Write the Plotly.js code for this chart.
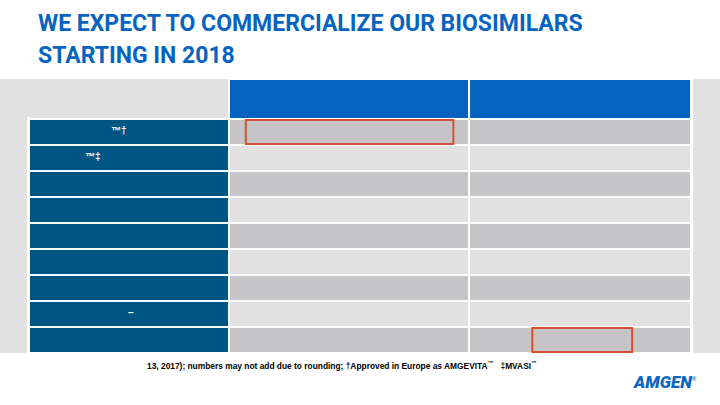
<!DOCTYPE html>
<html><head><meta charset="utf-8">
<script src="https://cdn.plot.ly/plotly-3.0.1.min.js"></script>
<style>html,body{margin:0;padding:0;background:#fff}#c{width:720px;height:405px}</style>
</head><body><div id="c"></div>
<script>
// ---- data ----
const titleLines = ["WE EXPECT TO COMMERCIALIZE OUR BIOSIMILARS", "STARTING IN 2018"];
const headerLabels = ["", "", ""];
const rowLabels = ["™†", "™‡", "", "", "", "", "", "–", ""];
const col2Values = ["", "", "", "", "", "", "", "", ""];
const col3Values = ["", "", "", "", "", "", "", "", ""];
const highlighted = [[0, 1], [8, 2]];            // [row, column] cells with a red outline
const footnote = "13, 2017); numbers may not add due to rounding; †Approved in Europe as AMGEVITA<sup>™</sup>   ‡MVASI<sup>™</sup>";
const logoText = "AMGEN";

// ---- layout geometry / styles ----
const W = 720, H = 405;
const bandTop = 79, bandBottom = 353;
const headerH = 40, rowH = 26;
const colEdges = [29, 229, 469, 691];
const highlightSpan = [[0.07, 0.935], [0.285, 0.735]];
const labelShift = [-10, -36, 0, 0, 0, 0, 0, 2, 0];
const C = {hdrGray: "#e1e1e1", hdrBlue: "#0563c1", label: "#005682", dark: "#c5c5c7", light: "#e1e1e1", red: "#d6502f", title: "#0563c1"};

const nRows = rowLabels.length;
const yEdges = [bandTop, bandTop + headerH];
for (let i = 0; i < nRows; i++) yEdges.push(bandTop + headerH + rowH * (i + 1));

const z = [[0, 1, 1]];
const txt = [headerLabels];
for (let i = 0; i < nRows; i++) {
  const g = i % 2 === 0 ? 3 : 4;
  z.push([2, g, g]);
  txt.push([rowLabels[i], col2Values[i], col3Values[i]]);
}
const colorscale = [[0, C.hdrGray], [0.125, C.hdrGray], [0.125, C.hdrBlue], [0.375, C.hdrBlue],
  [0.375, C.label], [0.625, C.label], [0.625, C.dark], [0.875, C.dark], [0.875, C.light], [1, C.light]];

const trace = {
  type: "heatmap", x: colEdges, y: yEdges, z: z, zmin: 0, zmax: 4,
  colorscale: colorscale, showscale: false, xgap: 2, ygap: 2, hoverinfo: "skip"
};

const shapes = [
  {type: "rect", layer: "below", xref: "x", yref: "y", x0: 27, x1: 693, y0: bandTop + headerH - 2, y1: bandBottom, fillcolor: "#ffffff", line: {width: 0}},
  {type: "rect", layer: "below", xref: "x", yref: "y", x0: colEdges[1] - 1, x1: 693, y0: bandTop, y1: bandTop + headerH, fillcolor: "#ffffff", line: {width: 0}}
];
highlighted.forEach(([r, c], k) => {
  const x0 = colEdges[c], x1 = colEdges[c + 1];
  const y0 = yEdges[r + 1], y1 = yEdges[r + 2];
  shapes.push({type: "rect", xref: "x", yref: "y", layer: "above",
    x0: x0 + (x1 - x0) * highlightSpan[k][0], x1: x0 + (x1 - x0) * highlightSpan[k][1],
    y0: y0 + 1, y1: y1 - 1, line: {color: C.red, width: 2}, fillcolor: "rgba(0,0,0,0)"});
});

const annotations = [];
titleLines.forEach((t, i) => annotations.push({
  text: t, xref: "paper", yref: "paper", x: 36 / W, y: 1 - (23.5 + 32 * i) / H,
  xanchor: "left", yanchor: "middle", showarrow: false,
  font: {family: "Roboto, Liberation Sans, sans-serif", size: 23, color: C.title, weight: 700}
}));
rowLabels.forEach((t, i) => {
  if (!t) return;
  annotations.push({text: t, xref: "x", yref: "y", x: (colEdges[0] + colEdges[1]) / 2, xshift: labelShift[i],
    y: (yEdges[i + 1] + yEdges[i + 2]) / 2, yshift: 2, showarrow: false,
    font: {family: "Liberation Sans, Arial, sans-serif", size: 10, color: "#ffffff", weight: 700}});
});
annotations.push({text: footnote, xref: "paper", yref: "paper", x: 342 / W, y: 1 - 365 / H,
  xanchor: "center", yanchor: "middle", showarrow: false,
  font: {family: "Liberation Sans, Arial, sans-serif", size: 8.4, color: "#000000", weight: 700}});
annotations.push({text: "<i>" + logoText + "</i><sup><span style='font-size:6px'>®</span></sup>", xref: "paper", yref: "paper", x: 631 / W, y: 1 - 381.5 / H,
  xanchor: "left", yanchor: "middle", showarrow: false,
  font: {family: "Roboto, Liberation Sans, sans-serif", size: 17, color: "#0a66c2", weight: 900}});

const layout = {
  width: W, height: H, margin: {l: 0, r: 0, t: 0, b: 0},
  paper_bgcolor: "#ffffff", plot_bgcolor: C.hdrGray,
  xaxis: {range: [0, W], domain: [0, 1], visible: false, fixedrange: true},
  yaxis: {range: [bandBottom, bandTop], domain: [(H - bandBottom) / H, (H - bandTop) / H], visible: false, fixedrange: true},
  shapes: shapes, annotations: annotations, showlegend: false
};
Plotly.newPlot("c", [trace], layout, {displayModeBar: false, staticPlot: true});
</script></body></html>
